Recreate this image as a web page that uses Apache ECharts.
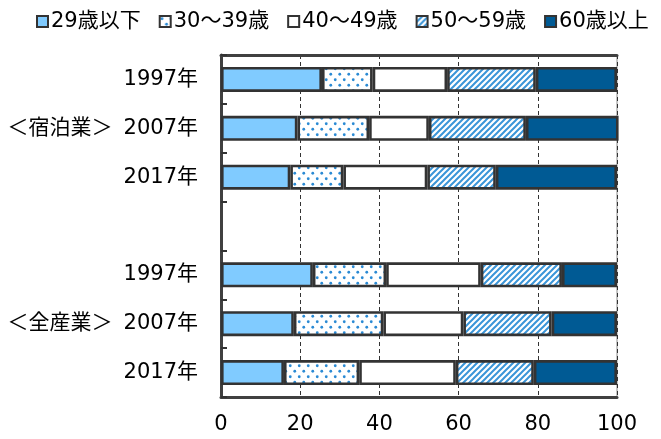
<!DOCTYPE html>
<html>
<head>
<meta charset="utf-8">
<script src="https://cdn.jsdelivr.net/npm/echarts@6/dist/echarts.min.js"></script>
<style>
  html, body { margin: 0; padding: 0; background: #fff; }
  #chart { width: 661px; height: 439px; }
</style>
</head>
<body>
<div id="chart"></div>
<script>
// Age composition of workers (%), accommodation industry vs. all industries
const categories = ['1997年', '2007年', '2017年', '', '1997年', '2007年', '2017年'];
const groupLabels = { 1: '＜宿泊業＞', 5: '＜全産業＞' };
const seriesNames = ['29歳以下', '30～39歳', '40～49歳', '50～59歳', '60歳以上'];
const under29  = [25.5, 19.3, 17.5, '-', 23.2, 18.4, 15.9];
const age30s   = [12.8, 18.1, 13.4, '-', 18.5, 22.6, 19.0];
const age40s   = [18.8, 15.1, 21.2, '-', 23.9, 20.2, 24.4];
const age50s   = [22.4, 24.5, 17.3, '-', 20.5, 22.3, 19.7];
const over60   = [20.5, 23.4, 30.6, '-', 13.9, 16.5, 21.0];
const xTicks = [0, 20, 40, 60, 80, 100];

const FONT = "'DejaVu Sans', 'Noto Sans CJK JP', sans-serif";
const EDGE = '#333333';
const FS = 21;

// staggered dot fill
function makeDots() {
  const c = document.createElement('canvas');
  c.width = 9; c.height = 11;
  const g = c.getContext('2d');
  g.fillStyle = '#ffffff';
  g.fillRect(0, 0, 9, 11);
  g.fillStyle = '#2a8ad4';
  g.beginPath(); g.arc(2.25, 2.75, 1.4, 0, Math.PI * 2); g.fill();
  g.beginPath(); g.arc(6.75, 8.25, 1.4, 0, Math.PI * 2); g.fill();
  return c;
}
// diagonal stripe fill
function makeHatch() {
  const s = 6;
  const c = document.createElement('canvas');
  c.width = s; c.height = s;
  const g = c.getContext('2d');
  g.fillStyle = '#ffffff';
  g.fillRect(0, 0, s, s);
  g.strokeStyle = '#3a95d8';
  g.lineWidth = 2;
  g.beginPath();
  g.moveTo(-1, s + 1); g.lineTo(s + 1, -1);
  g.moveTo(-1, 1); g.lineTo(1, -1);
  g.moveTo(s - 1, s + 1); g.lineTo(s + 1, s - 1);
  g.stroke();
  return c;
}

const fills = [
  '#80cbff',
  { image: makeDots(), repeat: 'repeat' },
  '#ffffff',
  { image: makeHatch(), repeat: 'repeat' },
  '#005a94'
];
const values = [under29, age30s, age40s, age50s, over60];

const chart = echarts.init(document.getElementById('chart'), null, { renderer: 'canvas' });

chart.setOption({
  animation: false,
  textStyle: { fontFamily: FONT },
  legend: {
    top: 6,
    left: 31,
    itemWidth: 11,
    itemHeight: 11,
    itemGap: 18,
    icon: 'rect',
    textStyle: { fontSize: FS, color: '#000', fontFamily: FONT, padding: [0, 0, 0, -2] },
    data: seriesNames
  },
  grid: {
    left: 221, right: 44, top: 55, bottom: 42,
    show: true, borderColor: '#8c8c8c', borderWidth: 1, backgroundColor: 'transparent'
  },
  xAxis: [{
    type: 'value', min: 0, max: 100, interval: 20,
    axisLine: { show: true, onZero: false, lineStyle: { color: '#404040', width: 3 } },
    axisTick: { show: false },
    axisLabel: { fontSize: FS, color: '#000', margin: 17, fontFamily: FONT,
      formatter: v => xTicks.includes(v) ? String(v) : '' },
    splitLine: { show: true, lineStyle: { color: '#333', width: 1, type: [4, 3] } }
  }, {
    type: 'value', min: 0, max: 100, position: 'top',
    axisLine: { show: true, onZero: false, lineStyle: { color: '#404040', width: 3 } },
    axisTick: { show: false }, axisLabel: { show: false }, splitLine: { show: false }
  }],
  yAxis: {
    type: 'category', inverse: true, data: categories,
    axisLine: { show: true, lineStyle: { color: '#404040', width: 3 } },
    axisTick: { show: true, inside: true, length: 6, lineStyle: { color: '#333', width: 2 } },
    axisLabel: {
      fontSize: FS, color: '#000', margin: 23, fontFamily: FONT,
      formatter: (v, i) => groupLabels[i] ? '{g|' + groupLabels[i] + '}' + v : v,
      rich: { g: { fontSize: FS, color: '#000', fontFamily: FONT, padding: [0, 11, 0, 0] } }
    }
  },
  series: seriesNames.map((name, k) => ({
    name, type: 'bar', stack: 'total', barWidth: 25, clip: false,
    itemStyle: { color: fills[k], borderColor: EDGE, borderWidth: 2.6 },
    emphasis: { disabled: true },
    data: values[k]
  }))
});
</script>
</body>
</html>
